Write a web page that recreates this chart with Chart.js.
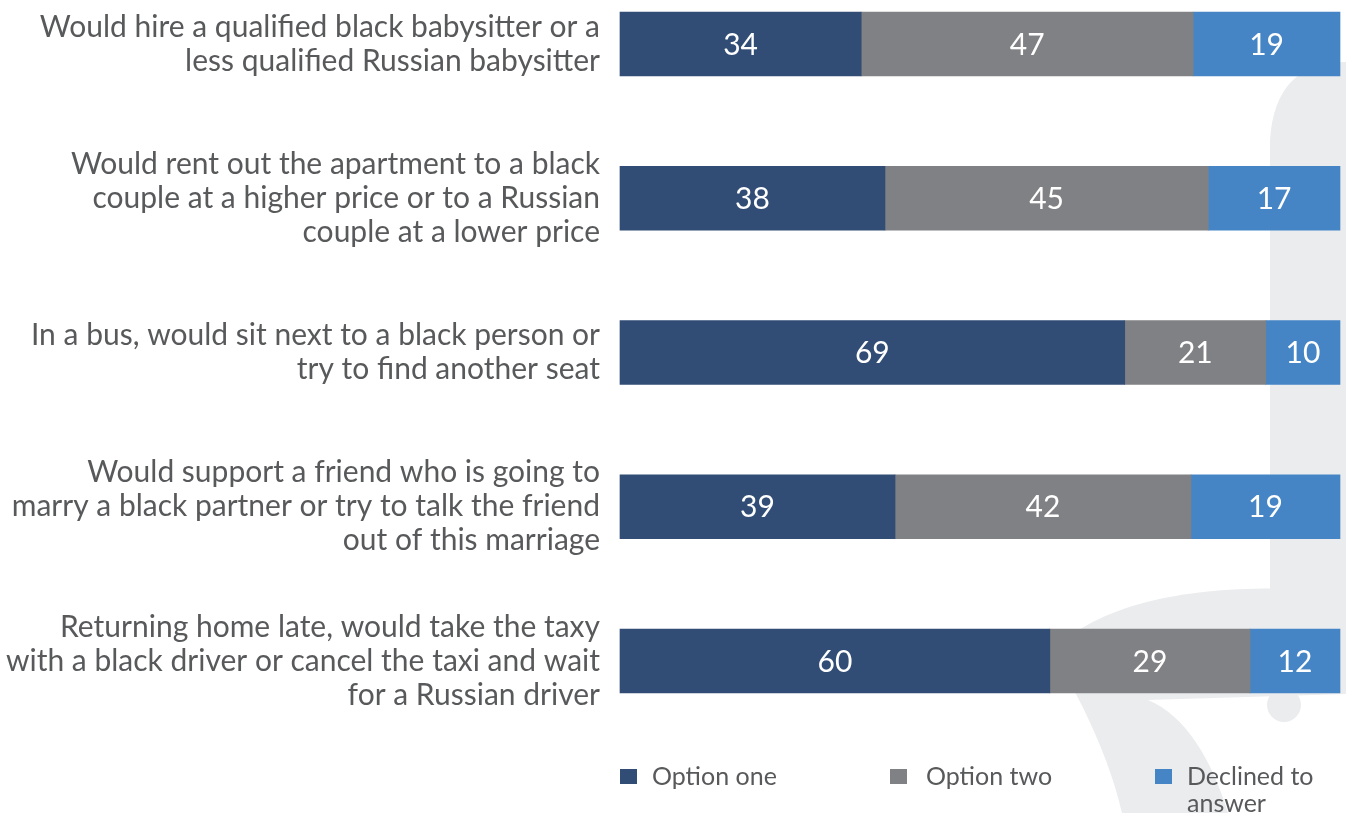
<!DOCTYPE html>
<html>
<head>
<meta charset="utf-8">
<script src="https://cdn.jsdelivr.net/npm/chart.js@4/dist/chart.umd.min.js"></script>
<style>
  body { margin: 0; background: #fff; }
  #wrap { position: relative; width: 1346px; height: 813px; overflow: hidden; }
  .swatch { position: absolute; width: 17px; height: 15px; }
  .ltext { position: absolute; font-family: Lato, sans-serif; font-size: 25px; line-height: 27px; color: #58595b; }
</style>
</head>
<body>
<div id="wrap">
  <canvas id="chart_attitudes" width="1346" height="813"></canvas>
  <div class="swatch" style="left:620px; top:769px; background:#314d75"></div>
  <div class="ltext" style="left:652px; top:762px">Option one</div>
  <div class="swatch" style="left:890px; top:769px; background:#808184"></div>
  <div class="ltext" style="left:926px; top:762px">Option two</div>
  <div class="swatch" style="left:1155px; top:769px; background:#4585c5"></div>
  <div class="ltext" style="left:1187px; top:762px">Declined to<br>answer</div>
</div>
<script>
// questions, one array of lines per row
var questions = [
    ['Would hire a qualified black babysitter or a', 'less qualified Russian babysitter'],
    ['Would rent out the apartment to a black', 'couple at a higher price or to a Russian', 'couple at a lower price'],
    ['In a bus, would sit next to a black person or', 'try to find another seat'],
    ['Would support a friend who is going to', 'marry a black partner or try to talk the friend', 'out of this marriage'],
    ['Returning home late, would take the taxy', 'with a black driver or cancel the taxi and wait', 'for a Russian driver']
];

// bar lengths (share of the full bar, %)
var optionOne = [33.5, 36.8, 70.1, 38.2, 59.7];
var optionTwo = [46.1, 44.9, 19.6, 41.1, 27.8];
var declined = [20.4, 18.3, 10.3, 20.7, 12.5];

// numbers printed on the bars
var optionOneLabels = [34, 38, 69, 39, 60];
var optionTwoLabels = [47, 45, 21, 42, 29];
var declinedLabels = [19, 17, 10, 19, 12];

var printedLabels = [optionOneLabels, optionTwoLabels, declinedLabels];

var backgroundMark = {
    id: 'backgroundMark',
    beforeDraw: (chart) => {
        const ctx = chart.ctx;
        ctx.save();
        ctx.fillStyle = '#ebecee';
        // stem
        ctx.beginPath();
        ctx.moveTo(1346, 62);
        ctx.quadraticCurveTo(1275, 62, 1270, 140);
        ctx.lineTo(1270, 610);
        ctx.lineTo(1346, 610);
        ctx.closePath();
        ctx.fill();
        // hook
        ctx.beginPath();
        ctx.moveTo(1346, 592);
        ctx.bezierCurveTo(1230, 582, 1110, 592, 1052, 652);
        ctx.bezierCurveTo(1082, 700, 1110, 760, 1122, 813);
        ctx.lineTo(1228, 813);
        ctx.bezierCurveTo(1212, 760, 1186, 716, 1148, 700);
        ctx.lineTo(1346, 694);
        ctx.closePath();
        ctx.fill();
        // dot
        ctx.beginPath();
        ctx.arc(1284, 705, 17, 0, Math.PI * 2);
        ctx.fill();
        ctx.restore();
    }
};

var valueLabels = {
    id: 'valueLabels',
    afterDatasetsDraw: (chart) => {
        const ctx = chart.ctx;
        ctx.save();
        ctx.font = '30px Lato';
        ctx.fillStyle = '#ffffff';
        ctx.textAlign = 'center';
        ctx.textBaseline = 'middle';
        chart.data.datasets.forEach((ds, i) => {
            chart.getDatasetMeta(i).data.forEach((bar, j) => {
                const p = bar.getProps(['x', 'y', 'base'], true);
                ctx.fillText(String(printedLabels[i][j]), (p.x + p.base) / 2, p.y + 1);
            });
        });
        ctx.restore();
    }
};

var chart_attitudes = new Chart(document.getElementById('chart_attitudes'), {
    type: 'bar',
    data: {
        labels: questions,
        datasets: [
            { label: 'Option one', data: optionOne, backgroundColor: '#314d75' },
            { label: 'Option two', data: optionTwo, backgroundColor: '#808184' },
            { label: 'Declined to answer', data: declined, backgroundColor: '#4585c5' }
        ].map(ds => Object.assign(ds, { barThickness: 64, borderWidth: 0, clip: false }))
    },
    options: {
        indexAxis: 'y',
        animation: false,
        responsive: false,
        layout: {
            padding: { top: 44, bottom: 152, left: 0, right: 6 }
        },
        plugins: {
            legend: { display: false },
            tooltip: { enabled: false }
        },
        scales: {
            x: {
                stacked: true,
                min: 0,
                max: 100,
                display: false
            },
            y: {
                stacked: true,
                offset: false,
                grid: { display: false, drawTicks: false },
                border: { display: false },
                ticks: {
                    autoSkip: false,
                    padding: 20,
                    color: '#58595b',
                    font: { family: 'Lato', size: 30, lineHeight: '34px' }
                },
                afterFit: (scale) => {
                    scale.width = 620;
                    scale.paddingTop = 0;
                    scale.paddingBottom = 0;
                }
            }
        }
    },
    plugins: [backgroundMark, valueLabels]
});
</script>
</body>
</html>
